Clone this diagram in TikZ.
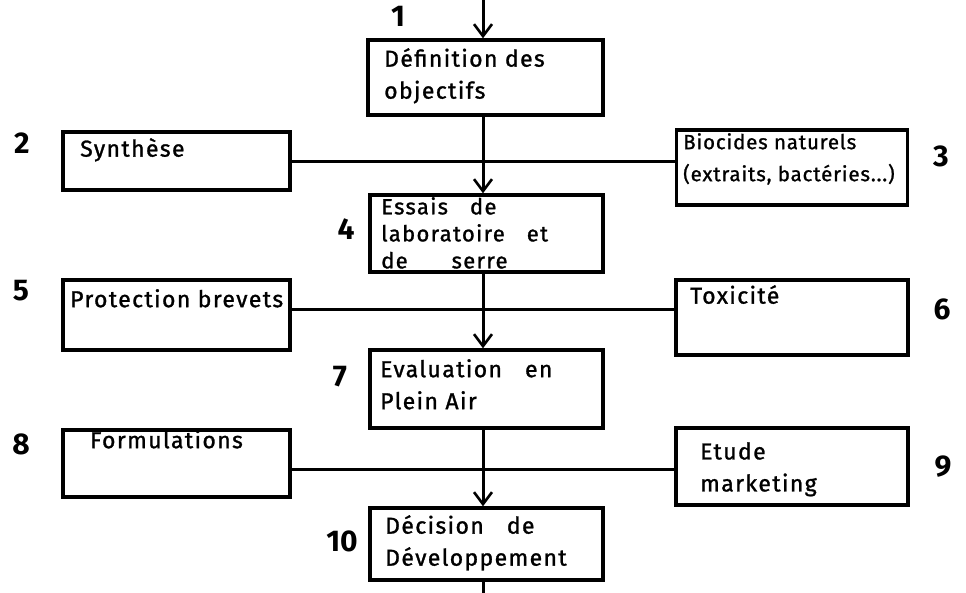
\documentclass[tikz,border=0pt]{standalone}
\usepackage{fontspec}
\setmainfont{Fira Sans}
\newfontfamily\handfont{Fira Sans}[FakeBold=1.2,LetterSpace=6]
\newfontfamily\handnarrow{Fira Sans}[FakeBold=1.0,LetterSpace=4]
\usetikzlibrary{arrows.meta}
\begin{document}
\begin{tikzpicture}[x=1pt,y=-1pt,
  box/.style={draw=black,line width=3.4pt,inner sep=0pt},
  txt/.style={anchor=north west,inner sep=0pt,align=left,font=\handfont\fontsize{23}{32}\selectfont},
  small/.style={anchor=north west,inner sep=0pt,align=left,font=\handnarrow\fontsize{20.5}{32}\selectfont},
  num/.style={inner sep=0pt,font=\fontsize{30}{30}\selectfont\bfseries},
  link/.style={line width=3pt},
  flow/.style={line width=3pt,-{Straight Barb[length=12pt,width=18pt,line width=2.6pt]}}]
\useasboundingbox (0,0) rectangle (966,593);

% central column of decisions
\node[box,minimum width=235pt,minimum height=75pt] (b1) at (485.5,77.5) {};
\node[box,minimum width=233pt,minimum height=77pt] (b4) at (486.5,233.5) {};
\node[box,minimum width=233pt,minimum height=78pt] (b7) at (486.5,389) {};
\node[box,minimum width=233pt,minimum height=72pt] (b10) at (486.5,544) {};

% left column
\node[box,minimum width=227pt,minimum height=58pt] (b2) at (176.5,161) {};
\node[box,minimum width=227pt,minimum height=70pt] (b5) at (176.5,315) {};
\node[box,minimum width=227pt,minimum height=67pt] (b8) at (176.5,463.5) {};

% right column
\node[box,minimum width=231pt,minimum height=75pt] (b3) at (792,167.5) {};
\node[box,minimum width=232pt,minimum height=75pt] (b6) at (792,317.5) {};
\node[box,minimum width=232pt,minimum height=77pt] (b9) at (792,466.5) {};

% box texts
\node[txt] (t1) at (384,48) {Définition des\\objectifs};
\node[txt] (t2) at (80,138) {Synthèse};
\node[small] (t3) at (683,133) {Biocides naturels\\(extraits, bactéries...)};
\node[txt,font=\handfont\fontsize{22}{27}\selectfont] (t4) at (381,197) {Essais\quad de\\laboratoire\quad et\\de\qquad serre};
\node[txt] (t5) at (70,289) {Protection brevets};
\node[txt] (t6) at (690,285) {Toxicité};
\node[txt] (t7) at (380,359) {Evaluation\quad en\\Plein Air};
\node[txt] (t8) at (90,430) {Formulations};
\node[txt] (t9) at (700,442) {Etude\\marketing};
\node[txt] (t10) at (385,515) {Décision\quad de\\Développement};

% step numbers
\node[num] (n1) at (398,16) {1};
\node[num] (n2) at (22,143) {2};
\node[num] (n3) at (941,156) {3};
\node[num] (n4) at (346,229) {4};
\node[num] (n5) at (21,291) {5};
\node[num] (n6) at (942,309) {6};
\node[num] (n7) at (340,377) {7};
\node[num] (n8) at (21,444) {8};
\node[num] (n9) at (943,467) {9};
\node[num] (n10) at (342,541) {10};

% open ends of the main flow
\coordinate (top) at (483,0);
\coordinate (bottom) at (483,593);

% horizontal inputs joining the main flow
\draw[link] (b2.east |- 0,162) -- (b3.west |- 0,162);
\draw[link] (b5.east |- 0,310) -- (b6.west |- 0,310);
\draw[link] (b8.east |- 0,469) -- (b9.west |- 0,469);

% main flow
\draw[flow] (top) -- (top |- b1.north);
\draw[flow] (top |- b1.south) -- (top |- b4.north);
\draw[flow] (top |- b4.south) -- (top |- b7.north);
\draw[flow] (top |- b7.south) -- (top |- b10.north);
\draw[link] (top |- b10.south) -- (bottom);
\end{tikzpicture}
\end{document}
